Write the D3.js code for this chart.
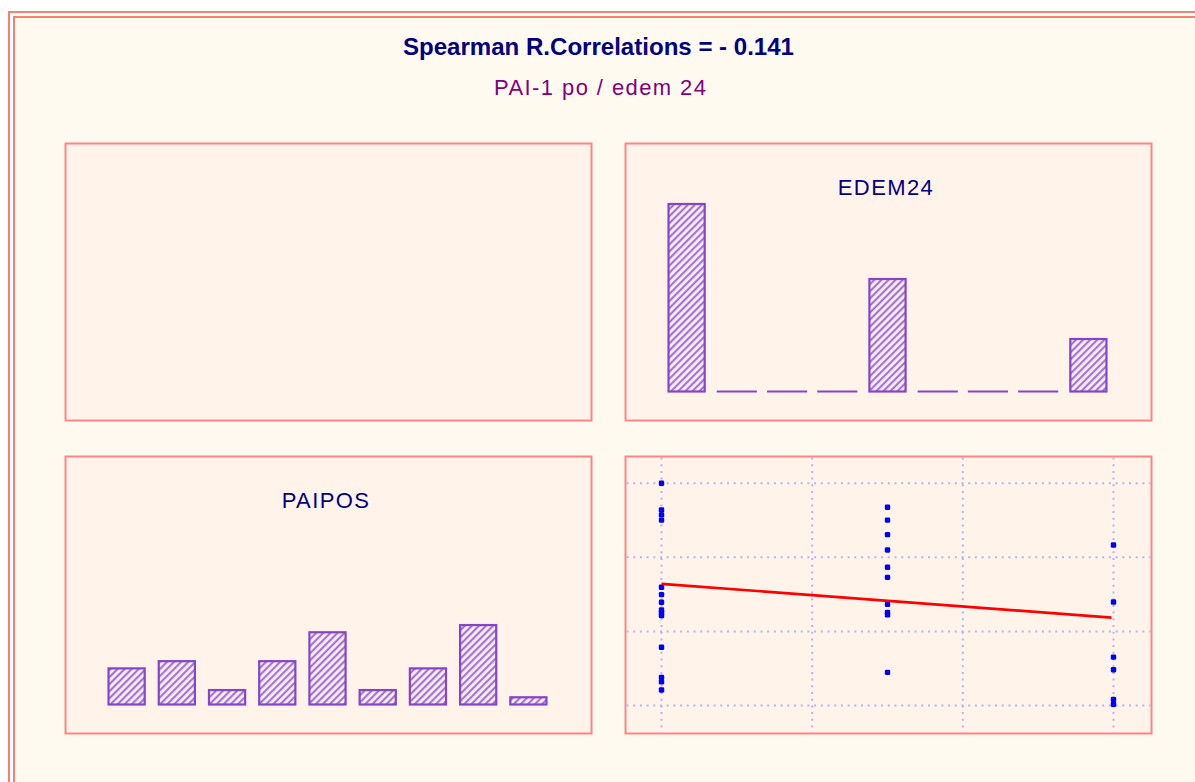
<!DOCTYPE html>
<html>
<head>
<meta charset="utf-8">
<script src="https://cdn.jsdelivr.net/npm/d3@7/dist/d3.min.js"></script>
<style>
  html, body { margin: 0; padding: 0; background: #ffffff; }
  svg { display: block; font-family: "Liberation Sans", Arial, sans-serif; }
</style>
</head>
<body>
<svg id="chart" width="1195" height="782"></svg>
<script>
// ---- data ----
const titleText = "Spearman R.Correlations = - 0.141";
const subtitleText = "PAI-1 po / edem 24";
const edemLabel = "EDEM24";
const paiLabel = "PAIPOS";

// histogram bin counts (9 bins over each variable's range)
const edemBins = [25, 0, 0, 0, 15, 0, 0, 0, 7];
const paiBins = [5, 6, 2, 6, 10, 2, 5, 11, 1];

// paired observations: edema score (x) and PAI-1 level (y)
const edemScores = [
  0, 0, 0, 0, 0, 0, 0, 0, 0, 0, 0, 0, 0, 0,
  1, 1, 1, 1, 1, 1, 1, 1, 1, 1,
  2, 2, 2, 2, 2, 2
];
const paiLevels = [
  90.0, 79.2, 77.2, 75.1, 47.9, 44.9, 41.8, 38.7, 37.6, 36.4, 23.6, 11.4, 9.6, 6.3,
  80.3, 75.1, 69.2, 63.0, 56.0, 51.9, 41.0, 37.7, 36.7, 13.4,
  65.0, 41.9, 19.6, 14.5, 2.5, 0.5
];

// axis ranges and fitted regression line
const edemDomain = [0, 2];
const paiDomain = [0, 90];
const gridDivisions = 3;
const fitIntercept = 49.3;
const fitSlope = -6.85;

// ---- layout ----
const svg = d3.select("#chart");
const W = 1195, H = 782;
const panelW = 526, panelH = 277;
const cols = [65.5, 625.5], rows = [143.5, 456.5];
const plotPadL = 36, plotPadR = 38;

const colors = {
  frame: "#F8806F",
  page: "#FFFAF0",
  panelFill: "#FFF3EA",
  panelStroke: "#FF8484",
  bar: "#8446C8",
  hatch: "#9C68D2",
  navy: "#000080",
  purple: "#800080",
  grid: "#B4B4F4",
  point: "#0000FF",
  fit: "#FF0000"
};

// hatch pattern for histogram bars
const defs = svg.append("defs");
const pat = defs.append("pattern")
  .attr("id", "hatch")
  .attr("patternUnits", "userSpaceOnUse")
  .attr("width", 5).attr("height", 5)
  .attr("patternTransform", "rotate(45)");
pat.append("rect").attr("width", 5).attr("height", 5).attr("fill", "#FBEFF3");
pat.append("line").attr("x1", 1.2).attr("y1", 0).attr("x2", 1.2).attr("y2", 5)
  .attr("stroke", colors.hatch).attr("stroke-width", 2);

// outer double frame running off the right and bottom edges
svg.append("rect").attr("x", 9).attr("y", 12).attr("width", W + 20).attr("height", H + 20)
  .attr("fill", "#FFFFFF").attr("stroke", colors.frame).attr("stroke-width", 2);
svg.append("rect").attr("x", 14).attr("y", 17).attr("width", W + 20).attr("height", H + 20)
  .attr("fill", colors.page).attr("stroke", colors.frame).attr("stroke-width", 2);

// titles
svg.append("text").attr("x", 598.5).attr("y", 55)
  .attr("text-anchor", "middle").attr("font-size", 23).attr("font-weight", "bold")
  .attr("fill", colors.navy).attr("textLength", 391).attr("lengthAdjust", "spacingAndGlyphs")
  .text(titleText);
svg.append("text").attr("x", 600).attr("y", 94.5)
  .attr("text-anchor", "middle").attr("font-size", 22)
  .attr("fill", colors.purple).attr("textLength", 212).attr("lengthAdjust", "spacing")
  .text(subtitleText);

// panels
const panels = [
  { x: cols[0], y: rows[0] },
  { x: cols[1], y: rows[0] },
  { x: cols[0], y: rows[1] },
  { x: cols[1], y: rows[1] }
];
panels.forEach(p => {
  svg.append("rect").attr("x", p.x).attr("y", p.y).attr("width", panelW).attr("height", panelH)
    .attr("fill", colors.panelFill).attr("stroke", colors.panelStroke).attr("stroke-width", 2);
});

// histogram drawer
function histogram(panel, bins, yMax, label) {
  const g = svg.append("g");
  const left = panel.x + plotPadL, right = panel.x + panelW - plotPadR;
  const baseline = panel.y + 248;
  const x = d3.scaleBand().domain(d3.range(bins.length)).range([left, right]).paddingInner(0).paddingOuter(0);
  const y = d3.scaleLinear().domain([0, yMax]).range([baseline, baseline - 195]);
  const barW = x.bandwidth() * 0.72;
  const lineW = x.bandwidth() * 0.8;

  g.selectAll("rect.bar").data(bins.map((v, i) => ({ v, i })).filter(d => d.v > 0))
    .enter().append("rect").attr("class", "bar")
    .attr("x", d => x(d.i) + (x.bandwidth() - barW) / 2)
    .attr("y", d => y(d.v))
    .attr("width", barW)
    .attr("height", d => y(0) - y(d.v))
    .attr("fill", "url(#hatch)")
    .attr("stroke", colors.bar).attr("stroke-width", 2.2);

  g.selectAll("line.zero").data(bins.map((v, i) => ({ v, i })).filter(d => d.v === 0))
    .enter().append("line").attr("class", "zero")
    .attr("x1", d => x(d.i) + (x.bandwidth() - lineW) / 2)
    .attr("x2", d => x(d.i) + (x.bandwidth() + lineW) / 2)
    .attr("y1", d => y(d.v)).attr("y2", d => y(d.v))
    .attr("stroke", colors.bar).attr("stroke-width", 2.2);

  g.append("text").attr("x", (left + right) / 2 - 1.5).attr("y", panel.y + 51)
    .attr("text-anchor", "middle").attr("font-size", 22).attr("letter-spacing", 1.4)
    .attr("fill", colors.navy).text(label);
}

histogram(panels[1], edemBins, 26, edemLabel);
histogram(panels[2], paiBins, 27, paiLabel);

// scatter plot with regression line
(function scatter(panel) {
  const g = svg.append("g");
  const x = d3.scaleLinear().domain(edemDomain)
    .range([panel.x + plotPadL, panel.x + panelW - plotPadR]);
  const y = d3.scaleLinear().domain(paiDomain)
    .range([panel.y + 249, panel.y + 26.8]);

  const xGrid = d3.range(gridDivisions + 1).map(i => edemDomain[0] + i * (edemDomain[1] - edemDomain[0]) / gridDivisions);
  const yGrid = d3.range(gridDivisions + 1).map(i => paiDomain[0] + i * (paiDomain[1] - paiDomain[0]) / gridDivisions);

  g.selectAll("line.vg").data(xGrid).enter().append("line")
    .attr("x1", d => x(d)).attr("x2", d => x(d))
    .attr("y1", panel.y + 1).attr("y2", panel.y + panelH - 1)
    .attr("stroke", colors.grid).attr("stroke-width", 2).attr("stroke-dasharray", "2,4.7");
  g.selectAll("line.hg").data(yGrid).enter().append("line")
    .attr("y1", d => y(d)).attr("y2", d => y(d))
    .attr("x1", panel.x + 1).attr("x2", panel.x + panelW - 1)
    .attr("stroke", colors.grid).attr("stroke-width", 2).attr("stroke-dasharray", "2,4.7");

  g.selectAll("rect.pt").data(d3.range(edemScores.length)).enter().append("rect")
    .attr("class", "pt")
    .attr("x", i => x(edemScores[i]) - 2.7)
    .attr("y", i => y(paiLevels[i]) - 2.7)
    .attr("width", 5.4).attr("height", 5.4).attr("rx", 1.3)
    .attr("fill", colors.point);

  const x0 = edemDomain[0], x1 = edemDomain[1];
  g.append("line")
    .attr("x1", x(x0)).attr("y1", y(fitIntercept + fitSlope * x0))
    .attr("x2", x(x1) - 2).attr("y2", y(fitIntercept + fitSlope * x1))
    .attr("stroke", colors.fit).attr("stroke-width", 2.7);
})(panels[3]);
</script>
</body>
</html>
